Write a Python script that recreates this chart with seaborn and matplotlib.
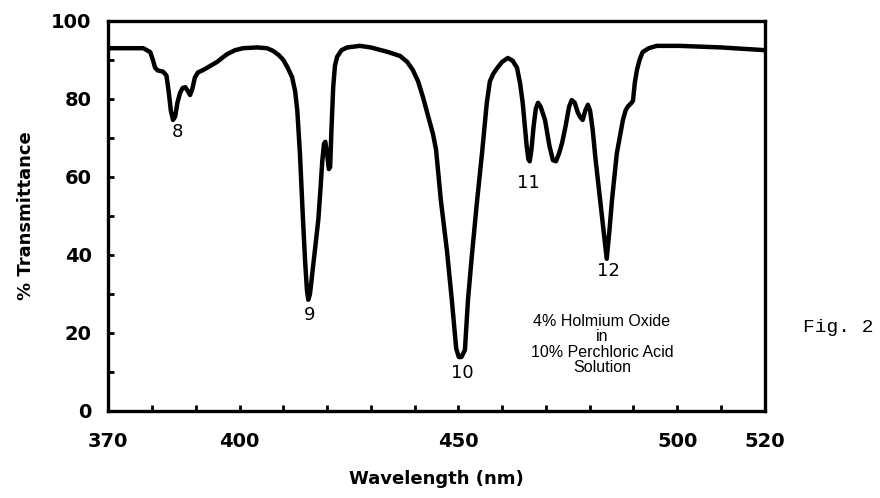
import matplotlib
matplotlib.use("Agg")
import matplotlib.pyplot as plt
import seaborn as sns
import pandas as pd
from matplotlib.ticker import FixedLocator, FuncFormatter

# ---- data ----
wavelength = [370, 375, 378, 379.6, 380.2, 380.7, 381.3, 382.5, 383.3, 383.8, 384.3,
              384.8, 385.3, 385.8, 386.4, 387.0, 387.6, 388.2, 388.7, 389.2, 389.8,
              390.5, 391.5, 392.6, 394.9, 396, 397.2, 399, 400.8, 404, 406.3, 407.7,
              409, 410, 411, 412, 412.7, 413.2, 413.8, 414.5, 415.0, 415.4, 415.7,
              416.1, 416.6, 417.3, 418, 418.5, 418.9, 419.3, 419.6, 420.0, 420.4, 420.7,
              421.0, 421.4, 421.8, 422.3, 423.3, 424.6, 427.5, 430, 432, 434, 436.7,
              438.3, 439.6, 440.8, 441.9, 443, 444.2, 444.9, 446.0, 447.4, 448.5, 449.5,
              450.1, 450.7, 451.5, 452.2, 453.1, 454.2, 455.4, 456.5, 457.2, 458,
              458.8, 460, 461.3, 462.4, 463.4, 464.1, 464.7, 465.6, 466.0, 466.3,
              466.7, 467.2, 467.7, 468.2, 468.8, 469.8, 470.8, 471.6, 472.3, 473.0,
              473.7, 474.5, 475.3, 475.9, 476.6, 477.3, 477.8, 478.4, 479, 479.6,
              480.1, 480.7, 481.3, 481.9, 482.6, 483.3, 483.9, 484.5, 485.1, 486.2,
              487.6, 488.2, 488.7, 489.4, 489.9, 490.3, 490.8, 491.4, 492.1, 493.5,
              495.3, 500.6, 510, 520]
transmittance = [93, 93, 93, 92, 90, 88, 87.3, 87, 86, 82, 77,
                 74.6, 75.5, 79, 81.5, 82.8, 83, 82, 81, 82.5, 85.5,
                 86.8, 87.3, 88, 89.5, 90.5, 91.5, 92.5, 93, 93.2, 93, 92.3,
                 91.2, 90, 88, 85.6, 82, 77, 66, 49, 38, 31, 28.5,
                 30, 35, 42, 49, 57, 64, 68.5, 69, 66, 62, 62.5,
                 72, 83, 88.5, 90.8, 92.5, 93.2, 93.6, 93.2, 92.6, 92, 91,
                 89.5, 87.4, 84.5, 80.5, 76, 71, 67, 54, 41, 28.5, 16,
                 13.8, 13.8, 15.6, 28.5, 40, 53, 66, 79, 84.5, 86.5,
                 87.8, 89.5, 90.5, 89.8, 88, 84, 79, 68, 64.5, 64,
                 67, 73, 77.5, 79, 78, 74.6, 68, 64.3, 64, 66,
                 68.7, 73, 78, 79.7, 79, 76.5, 75.4, 74.6, 77, 78.5,
                 77, 72, 65, 59, 52, 45, 39, 46, 54, 66,
                 74.6, 77, 78, 78.8, 79.5, 84, 87.4, 90, 92, 93,
                 93.6, 93.6, 93.2, 92.5]

peak_labels = ["8", "9", "10", "11", "12"]
peak_x = [385.8, 416.1, 451.0, 465.9, 484.2]
peak_y = [71.5, 24.6, 9.7, 58.5, 35.9]

x_tick_labels = [370, 400, 450, 500, 520]
y_tick_labels = [0, 20, 40, 60, 80, 100]

df = pd.DataFrame({"Wavelength": wavelength, "T": transmittance})

sns.set_theme(style="white")
plt.rcParams["font.family"] = ["DejaVu Sans"]
plt.rcParams["text.color"] = "black"
plt.rcParams["axes.labelcolor"] = "black"
plt.rcParams["xtick.color"] = "black"
plt.rcParams["ytick.color"] = "black"
plt.rcParams["xtick.labelcolor"] = "black"
plt.rcParams["ytick.labelcolor"] = "black"

fig = plt.figure(figsize=(8.8, 4.98), dpi=100)
ax = fig.add_axes([0.123, 0.175, 0.746, 0.783])

sns.lineplot(data=df, x="Wavelength", y="T", ax=ax, color="black", linewidth=3.2,
             sort=False, estimator=None)
for line in ax.get_lines():
    line.set_solid_joinstyle("round")
    line.set_solid_capstyle("round")

ax.set_xlim(370, 520)
ax.set_ylim(0, 100)

ax.xaxis.set_major_locator(FixedLocator(list(range(370, 521, 10))))
ax.yaxis.set_major_locator(FixedLocator(list(range(0, 101, 10))))
ax.xaxis.set_major_formatter(FuncFormatter(lambda v, p: str(int(round(v))) if int(round(v)) in x_tick_labels else ""))
ax.yaxis.set_major_formatter(FuncFormatter(lambda v, p: str(int(round(v))) if int(round(v)) in y_tick_labels else ""))

ax.tick_params(axis="x", direction="in", length=4, width=2, color="black",
               labelcolor="black", labelsize=14, pad=15, bottom=True, top=False)
ax.tick_params(axis="y", direction="in", length=4, width=2, color="black",
               labelcolor="black", labelsize=14, pad=12, left=True, right=False)
for lab in ax.get_xticklabels() + ax.get_yticklabels():
    lab.set_fontweight("bold")

for s in ax.spines.values():
    s.set_visible(True)
    s.set_color("black")
    s.set_linewidth(2.4)

ax.set_xlabel("Wavelength (nm)", fontsize=13, fontweight="bold", labelpad=14, color="black")
ax.set_ylabel("% Transmittance", fontsize=13, fontweight="bold", labelpad=12, color="black")

for t, x, y in zip(peak_labels, peak_x, peak_y):
    ax.text(x, y, t, ha="center", va="center", fontsize=13, color="black")

ax.text(482.8, 17.0, "4% Holmium Oxide\nin\n10% Perchloric Acid\nSolution",
        ha="center", va="center", fontsize=11.5, color="black", linespacing=1.02,
        family=["Liberation Sans", "DejaVu Sans"])

fig.text(0.953, 0.343, "Fig. 2", ha="center", va="center", fontsize=14,
         family=["Liberation Mono", "DejaVu Sans Mono"], color="black")

fig.savefig("out.png", dpi=100, facecolor="white")
